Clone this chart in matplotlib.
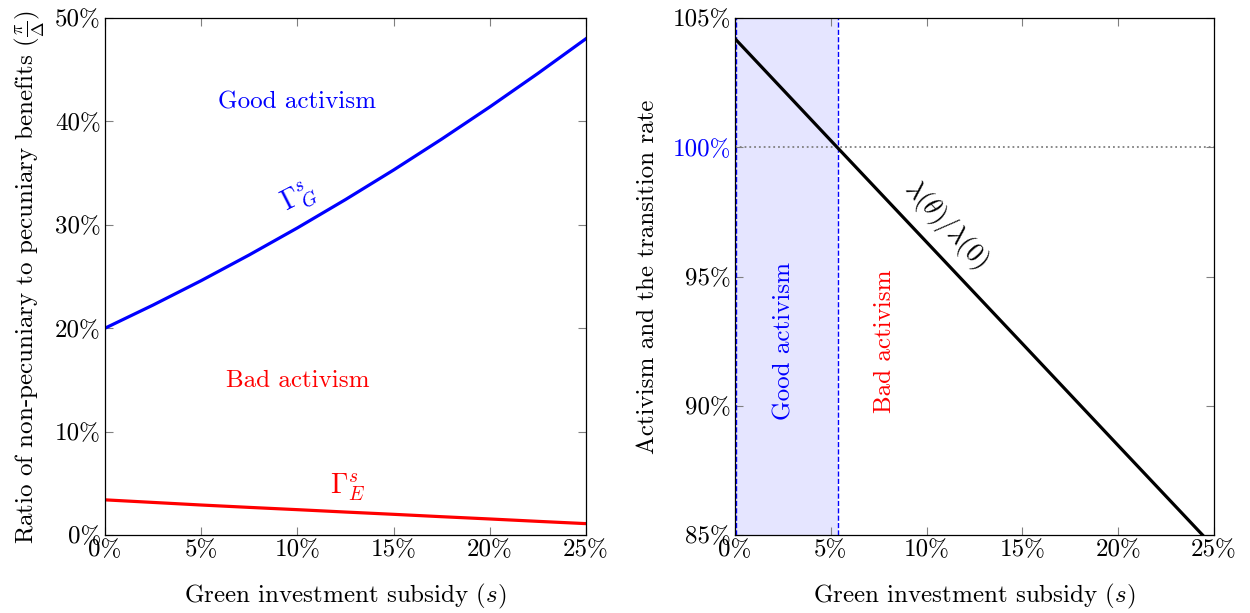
import matplotlib
matplotlib.use("Agg")
import matplotlib.pyplot as plt
import numpy as np

plt.rcParams['font.family'] = 'serif'
plt.rcParams['font.serif'] = ['cmr10']
plt.rcParams['mathtext.fontset'] = 'cm'
plt.rcParams['axes.unicode_minus'] = False
plt.rcParams['font.size'] = 18

# Left panel: thresholds versus subsidy (values in %)
subsidy = [0, 2.5, 5, 7.5, 10, 12.5, 15, 17.5, 20, 22.5, 25]
gamma_G = [20.0, 22.24, 24.6, 27.09, 29.7, 32.44, 35.3, 38.29, 41.4, 44.64, 48.0]
gamma_E = [3.4, 3.15, 2.9, 2.67, 2.45, 2.22, 2.0, 1.77, 1.55, 1.32, 1.1]

# Right panel: transition rate ratio (values in %)
subsidy_r = [0, 5, 10, 15, 20, 25]
ratio = [104.2, 100.26, 96.33, 92.4, 88.46, 84.53]
cutoff = 5.4

left_yticks = [0, 10, 20, 30, 40, 50]
right_yticks = [85, 90, 95, 100, 105]
xticks = [0, 5, 10, 15, 20, 25]

fig = plt.figure(figsize=(12.5, 6.13), dpi=100)
ax1 = fig.add_axes([105/1250, 1-535/613, 481/1250, 517/613])
ax2 = fig.add_axes([735/1250, 1-535/613, 479/1250, 517/613])

def pct(v):
    return [str(t) + "%" for t in v]

# izquierda
ax1.plot(subsidy, gamma_G, color="blue", lw=2.3)
ax1.plot(subsidy, gamma_E, color="red", lw=2.3)
ax1.set_xlim(0, 25)
ax1.set_ylim(0, 50)
ax1.set_xticks(xticks)
ax1.set_xticklabels(pct(xticks))
ax1.set_yticks(left_yticks)
ax1.set_yticklabels(pct(left_yticks))
ax1.text(10, 41.8, "Good activism", color="blue", ha="center", va="center")
ax1.text(10, 14.9, "Bad activism", color="red", ha="center", va="center")
ax1.text(10.1, 32.6, r"$\Gamma^s_G$", color="blue", ha="center", va="center", rotation=27, fontsize=20)
ax1.text(12.6, 4.6, r"$\Gamma^s_E$", color="red", ha="center", va="center", fontsize=20)
ax1.set_xlabel(r"Green investment subsidy ($s$)", labelpad=15)
ax1.set_ylabel(r"Ratio of non-pecuniary to pecuniary benefits ($\frac{\pi}{\Delta}$)", labelpad=6)

# derecha
ax2.axvspan(0, cutoff, color="blue", alpha=0.1, lw=0)
ax2.axvline(0.03, color="blue", ls="--", lw=1)
ax2.axvline(cutoff, color="blue", ls="--", lw=1)
ax2.axhline(100, color="gray", ls=":", lw=1.3)
ax2.plot(subsidy_r, ratio, color="black", lw=2.3)
ax2.set_xlim(0, 25)
ax2.set_ylim(85, 105)
ax2.set_xticks(xticks)
ax2.set_xticklabels(pct(xticks))
ax2.set_yticks(right_yticks)
ax2.set_yticklabels(pct(right_yticks))
ax2.get_yticklabels()[3].set_color("blue")
ax2.text(2.6, 92.5, "Good activism", color="blue", ha="center", va="center", rotation=90)
ax2.text(7.8, 92.5, "Bad activism", color="red", ha="center", va="center", rotation=90)
ax2.text(11.0, 97.0, r"$\lambda(\theta)/\lambda(0)$", ha="center", va="center", rotation=-47, fontsize=19)
ax2.set_xlabel(r"Green investment subsidy ($s$)", labelpad=15)
ax2.set_ylabel("Activism and the transition rate", labelpad=10)

for ax in (ax1, ax2):
    ax.tick_params(direction="in", top=True, right=True, length=6, width=0.8, color="gray", labelsize=18, pad=3)
    for s in ax.spines.values():
        s.set_linewidth(0.9)

fig.savefig("out.png", dpi=100)
